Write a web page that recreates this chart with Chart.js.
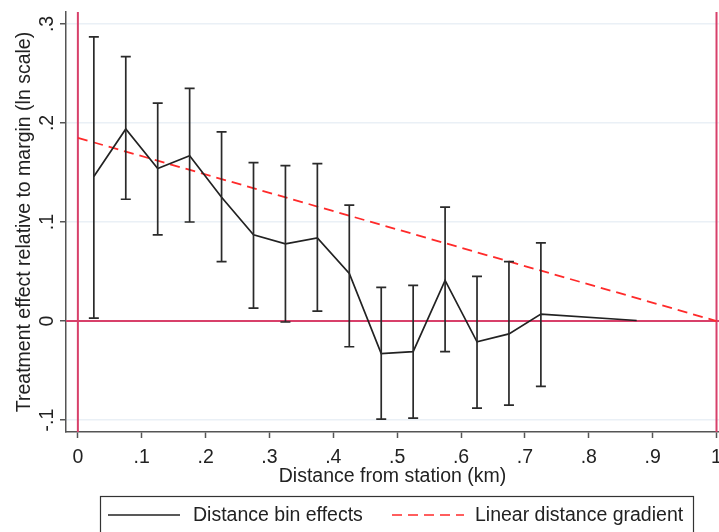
<!DOCTYPE html>
<html>
<head>
<meta charset="utf-8">
<script src="https://cdn.jsdelivr.net/npm/chart.js@4"></script>
<style>
  html, body { margin: 0; padding: 0; background: #fff; overflow: hidden; }
  #wrap { position: relative; width: 719px; height: 532px; }
</style>
</head>
<body>
<div id="wrap"><canvas id="chart"></canvas></div>
<script>
// distance bins (km) and estimated effects
const binCenters = [0.025, 0.075, 0.125, 0.175, 0.225, 0.275, 0.325, 0.375, 0.425, 0.475, 0.525, 0.575, 0.625, 0.675, 0.725, 0.875];
const binEffects = [0.146, 0.194, 0.154, 0.167, 0.125, 0.087, 0.078, 0.084, 0.048, -0.033, -0.031, 0.041, -0.021, -0.013, 0.007, 0.0005];
const ciHigh = [0.287, 0.267, 0.220, 0.235, 0.191, 0.160, 0.157, 0.159, 0.117, 0.034, 0.036, 0.115, 0.045, 0.060, 0.079, null];
const ciLow  = [0.003, 0.123, 0.087, 0.100, 0.060, 0.013, -0.001, 0.010, -0.026, -0.099, -0.098, -0.031, -0.088, -0.085, -0.066, null];

// linear gradient end points
const gradientX = [0, 1];
const gradientY = [0.185, 0];

const xTicks = [0, 0.1, 0.2, 0.3, 0.4, 0.5, 0.6, 0.7, 0.8, 0.9, 1];
const xTickLabels = ['0', '.1', '.2', '.3', '.4', '.5', '.6', '.7', '.8', '.9', '1'];
const yTicks = [-0.1, 0, 0.1, 0.2, 0.3];
const yTickLabels = ['-.1', '0', '.1', '.2', '.3'];

const refColor = '#d8406a';
const font = "'Liberation Sans', Arial, sans-serif";
const fontSize = 19.5;

// red reference lines at x=0, x=1 and y=0
const refLines = {
  id: 'refLines',
  beforeDatasetsDraw(chart) {
    const { ctx, chartArea: a, scales: { x, y } } = chart;
    ctx.save();
    ctx.strokeStyle = refColor;
    ctx.lineWidth = 2;
    ctx.beginPath();
    [0, 1].forEach(v => {
      const px = x.getPixelForValue(v);
      ctx.moveTo(px, a.top);
      ctx.lineTo(px, a.bottom);
    });
    const py = y.getPixelForValue(0);
    ctx.moveTo(a.left, py);
    ctx.lineTo(a.right, py);
    ctx.stroke();
    ctx.restore();
  }
};

// confidence interval whiskers
const errorBars = {
  id: 'errorBars',
  afterDatasetsDraw(chart) {
    const { ctx, scales: { x, y } } = chart;
    ctx.save();
    ctx.strokeStyle = '#2a2a2a';
    ctx.lineWidth = 1.7;
    for (let i = 0; i < binCenters.length; i++) {
      if (ciHigh[i] == null) continue;
      const px = x.getPixelForValue(binCenters[i]);
      const top = y.getPixelForValue(ciHigh[i]);
      const bot = y.getPixelForValue(ciLow[i]);
      ctx.beginPath();
      ctx.moveTo(px, top); ctx.lineTo(px, bot);
      ctx.moveTo(px - 5, top); ctx.lineTo(px + 5, top);
      ctx.moveTo(px - 5, bot); ctx.lineTo(px + 5, bot);
      ctx.stroke();
    }
    ctx.restore();
  }
};

// boxed legend below the axis title
const boxLegend = {
  id: 'boxLegend',
  afterDraw(chart) {
    const ctx = chart.ctx;
    ctx.save();
    ctx.strokeStyle = '#333';
    ctx.lineWidth = 1.2;
    ctx.strokeRect(100.5, 496.5, 593, 40);
    ctx.lineWidth = 1.7;
    ctx.strokeStyle = '#222';
    ctx.beginPath(); ctx.moveTo(108, 515); ctx.lineTo(180, 515); ctx.stroke();
    ctx.strokeStyle = '#ff2a2a';
    ctx.setLineDash([10, 6]);
    ctx.beginPath(); ctx.moveTo(392, 515); ctx.lineTo(464, 515); ctx.stroke();
    ctx.setLineDash([]);
    ctx.fillStyle = '#222';
    ctx.font = fontSize + 'px ' + font;
    ctx.textBaseline = 'middle';
    ctx.fillText('Distance bin effects', 193, 516);
    ctx.fillText('Linear distance gradient', 475, 516);
    ctx.restore();
  }
};

new Chart(document.getElementById('chart'), {
  type: 'scatter',
  data: {
    datasets: [
      {
        label: 'Distance bin effects',
        data: binCenters.map((v, i) => ({ x: v, y: binEffects[i] })),
        showLine: true,
        borderColor: '#222',
        borderWidth: 1.7,
        pointRadius: 0,
        tension: 0
      },
      {
        label: 'Linear distance gradient',
        data: gradientX.map((v, i) => ({ x: v, y: gradientY[i] })),
        showLine: true,
        borderColor: '#ff2a2a',
        borderWidth: 1.8,
        borderDash: [10, 6],
        pointRadius: 0
      }
    ]
  },
  options: {
    responsive: true,
    maintainAspectRatio: false,
    animation: false,
    layout: { padding: { top: 12, right: 0, bottom: 44, left: 0 } },
    plugins: { legend: { display: false }, tooltip: { enabled: false } },
    scales: {
      x: {
        type: 'linear',
        min: -0.0186,
        max: 1.0039,
        afterBuildTicks: s => { s.ticks = xTicks.map(v => ({ value: v })); },
        afterFit: s => { s.height = 56; s.paddingLeft = 0; s.paddingRight = 0; },
        ticks: {
          color: '#222',
          font: { family: font, size: fontSize },
          padding: 8,
          maxRotation: 0,
          callback: (v) => xTickLabels[xTicks.indexOf(v)]
        },
        grid: { drawOnChartArea: false, tickLength: 6, tickColor: '#555', tickWidth: 1.5 },
        border: { color: '#555', width: 1.5 },
        title: { display: true, text: 'Distance from station (km)', color: '#222', font: { family: font, size: fontSize }, padding: { top: 0, bottom: 0 } }
      },
      y: {
        type: 'linear',
        min: -0.1121,
        max: 0.3121,
        afterBuildTicks: s => { s.ticks = yTicks.map(v => ({ value: v })); },
        afterFit: s => { s.width = 66; s.paddingTop = 0; s.paddingBottom = 0; },
        ticks: {
          color: '#222',
          font: { family: font, size: fontSize },
          minRotation: 90,
          maxRotation: 90,
          crossAlign: 'center',
          padding: 1,
          callback: (v) => yTickLabels[yTicks.findIndex(t => Math.abs(t - v) < 1e-9)]
        },
        grid: { color: '#eaf0f6', lineWidth: 1.5, tickLength: 6, tickColor: '#555', tickWidth: 1.5 },
        border: { color: '#555', width: 1.5 },
        title: { display: true, text: 'Treatment effect relative to margin (ln scale)', color: '#222', font: { family: font, size: fontSize }, padding: { top: 13, bottom: 0 } }
      }
    }
  },
  plugins: [refLines, errorBars, boxLegend]
});
</script>
</body>
</html>
